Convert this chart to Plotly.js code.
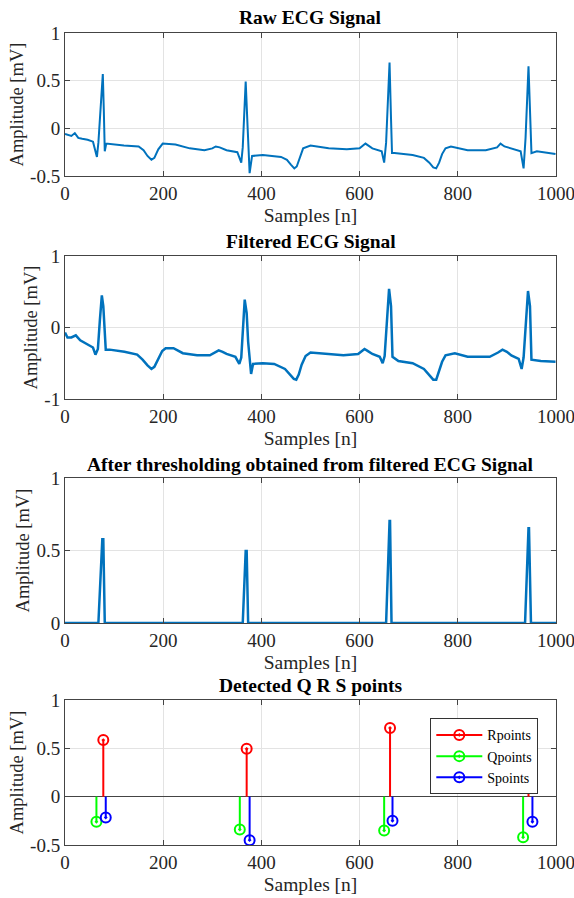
<!DOCTYPE html>
<html><head><meta charset="utf-8">
<script src="https://cdn.plot.ly/plotly-3.0.1.min.js"></script>
<style>html,body{margin:0;padding:0;background:#fff}</style>
</head><body><div id="chart" style="width:574px;height:898px"></div>
<script>
// ---- Raw ECG (samples, mV) ----
const rawN = [0,6,13,20,27,35,46,57,62,65,68,72,77,79,81,84,100,120,150,160,168,176,182,190,199,225,254,284,300,307,315,329,351,359,362,368,372,376,381,403,440,452,460,467,472,478,485,500,537,574,600,612,626,645,650,654,661,664,666,671,708,731,742,750,756,762,768,775,786,820,857,880,887,895,909,928,934,938,944,947,950,961,999];
const rawV = [-0.06,-0.07,-0.08,-0.05,-0.10,-0.11,-0.12,-0.14,-0.26,-0.30,-0.15,0.20,0.57,0.20,-0.24,-0.16,-0.17,-0.18,-0.19,-0.23,-0.29,-0.33,-0.31,-0.22,-0.16,-0.17,-0.21,-0.23,-0.21,-0.19,-0.20,-0.23,-0.25,-0.36,-0.20,0.49,0.00,-0.47,-0.29,-0.28,-0.30,-0.33,-0.38,-0.42,-0.40,-0.30,-0.21,-0.18,-0.21,-0.22,-0.21,-0.16,-0.21,-0.24,-0.36,-0.15,0.69,0.10,-0.26,-0.26,-0.28,-0.31,-0.36,-0.41,-0.42,-0.36,-0.27,-0.21,-0.19,-0.23,-0.23,-0.20,-0.16,-0.19,-0.21,-0.24,-0.42,-0.10,0.65,0.10,-0.26,-0.24,-0.27];

// ---- Filtered ECG ----
const filtN = [0,5,13,22,31,46,57,62,67,71,75,78,81,83,91,121,147,158,168,176,182,190,198,205,221,240,269,295,305,313,321,329,347,355,359,363,366,370,373,379,383,403,426,448,458,466,471,476,482,490,500,522,567,597,604,610,617,626,641,647,651,656,660,664,667,679,708,731,742,750,756,762,768,775,794,820,865,882,891,900,909,924,930,934,939,943,947,950,969,999];
const filtV = [-0.07,-0.14,-0.14,-0.11,-0.18,-0.24,-0.28,-0.38,-0.30,0.10,0.45,0.30,-0.10,-0.31,-0.31,-0.34,-0.38,-0.45,-0.53,-0.58,-0.55,-0.44,-0.33,-0.29,-0.29,-0.36,-0.39,-0.39,-0.35,-0.32,-0.34,-0.37,-0.41,-0.51,-0.42,0.00,0.39,0.20,-0.20,-0.65,-0.51,-0.50,-0.51,-0.58,-0.65,-0.72,-0.73,-0.66,-0.52,-0.40,-0.35,-0.36,-0.39,-0.37,-0.33,-0.30,-0.33,-0.37,-0.41,-0.50,-0.40,0.10,0.54,0.30,-0.41,-0.47,-0.50,-0.58,-0.66,-0.73,-0.73,-0.62,-0.48,-0.39,-0.36,-0.41,-0.41,-0.35,-0.31,-0.34,-0.39,-0.44,-0.58,-0.42,0.10,0.51,0.30,-0.45,-0.47,-0.48];

// ---- Thresholded ----
const thrN = [0,68,76,78,81,362,368,370,373,654,661,662,665,937,944,945,949,1000];
const thrV = [0,0,0.577,0.577,0,0,0.497,0.497,0,0,0.704,0.704,0,0,0.654,0.654,0,0];

// ---- Detected points ----
const rLoc = [78,370,662,944];
const rVal = [0.585,0.495,0.71,0.65];
const qLoc = [64,356,650,933];
const qVal = [-0.26,-0.34,-0.35,-0.42];
const sLoc = [83,376,667,952];
const sVal = [-0.216,-0.45,-0.25,-0.26];

// ---- Labels ----
const titles = ['Raw ECG Signal','Filtered ECG Signal','After thresholding obtained from filtered ECG Signal','Detected Q R S points'];
const xTicks = [0,200,400,600,800,1000];
const yTicks1 = [-0.5,0,0.5,1], yText1 = ['-0.5','0','0.5','1'];
const yTicks2 = [-1,0,1], yText2 = ['-1','0','1'];
const yTicks3 = [0,0.5,1], yText3 = ['0','0.5','1'];
const yTicks4 = [-0.5,0,0.5,1], yText4 = ['-0.5','0','0.5','1'];

const BLUE = '#0072BD';
const FONT = '"Liberation Serif", "Times New Roman", serif';

function stems(loc, val){
  const x=[], y=[];
  loc.forEach((l,i)=>{ x.push(l,l,null); y.push(0,val[i],null); });
  return {x,y};
}

const traces = [
  {x: rawN, y: rawV, type:'scatter', mode:'lines', line:{color:BLUE, width:2}, xaxis:'x', yaxis:'y', showlegend:false},
  {x: filtN, y: filtV, type:'scatter', mode:'lines', line:{color:BLUE, width:2.5}, xaxis:'x2', yaxis:'y2', showlegend:false},
  {x: thrN, y: thrV, type:'scatter', mode:'lines', line:{color:BLUE, width:2.5}, xaxis:'x3', yaxis:'y3', showlegend:false}
];
const series = [
  {name:'Rpoints', loc:rLoc, val:rVal, color:'#ff0000'},
  {name:'Qpoints', loc:qLoc, val:qVal, color:'#00ff00'},
  {name:'Spoints', loc:sLoc, val:sVal, color:'#0000ff'}
];
series.forEach(s=>{
  const st = stems(s.loc, s.val);
  traces.push({x:st.x, y:st.y, type:'scatter', mode:'lines', line:{color:s.color, width:2}, xaxis:'x4', yaxis:'y4', showlegend:false, hoverinfo:'skip'});
  traces.push({x:s.loc, y:s.val, type:'scatter', mode:'markers', marker:{symbol:'circle-open-dot', size:10, color:s.color, line:{width:2, color:s.color}}, xaxis:'x4', yaxis:'y4', showlegend:false});
  traces.push({x:[null], y:[null], type:'scatter', mode:'lines+markers', name:s.name, line:{color:s.color, width:2}, marker:{symbol:'circle-open-dot', size:10, color:s.color, line:{width:2, color:s.color}}, xaxis:'x4', yaxis:'y4'});
});

const domains = [[0.8239,1],[0.5493,0.7254],[0.2734,0.4520],[0,0.1786]];
const yt = [[yTicks1,yText1,[-0.5,1]],[yTicks2,yText2,[-1,1]],[yTicks3,yText3,[0,1]],[yTicks4,yText4,[-0.5,1]]];
const titleY = [1.0197,0.7438,0.4692,0.1970];

const layout = {
  width:574, height:898,
  margin:{l:65, r:18, t:33, b:53},
  paper_bgcolor:'#fff', plot_bgcolor:'#fff',
  font:{family:FONT, size:18, color:'#262626'},
  showlegend:true,
  legend:{x:0.744, y:0.156, xanchor:'left', yanchor:'top', bgcolor:'#fff', bordercolor:'#333', borderwidth:1, font:{family:FONT, size:14, color:'#000'}, tracegroupgap:0, itemwidth:46},
  annotations: titles.map((t,i)=>({text:'<b>'+t+'</b>', xref:'paper', yref:'paper', x:0.5, y:titleY[i], xanchor:'center', yanchor:'middle', showarrow:false, font:{family:FONT, size:19.5, color:'#000'}}))
};
for(let i=0;i<4;i++){
  const sx = i===0?'':String(i+1);
  layout['xaxis'+sx] = {
    domain:[0,1], anchor:'y'+sx, range:[0,1000], tickvals:xTicks, ticktext:xTicks.map(String),
    ticklabeloverflow:'allow',
    showgrid:true, gridcolor:'#e3e3e3', gridwidth:1, zeroline:false,
    showline:true, linecolor:'#444', linewidth:1, mirror:'ticks', ticks:'inside', ticklen:5, tickcolor:'#444',
    tickfont:{family:FONT, size:19, color:'#262626'},
    title:{text:'Samples [n]', font:{family:FONT, size:19.5, color:'#262626'}, standoff:5}
  };
  layout['yaxis'+sx] = {
    domain:domains[i], anchor:'x'+sx, range:yt[i][2], tickvals:yt[i][0], ticktext:yt[i][1],
    showgrid:true, gridcolor:'#e3e3e3', gridwidth:1,
    zeroline: i===3, zerolinecolor:'#444', zerolinewidth:1.5,
    showline:true, linecolor:'#444', linewidth:1, mirror:'ticks', ticks:'inside', ticklen:5, tickcolor:'#444',
    tickfont:{family:FONT, size:19, color:'#262626'},
    title:{text:'Amplitude [mV]', font:{family:FONT, size:18.5, color:'#262626'}, standoff:1}
  };
}
Plotly.newPlot('chart', traces, layout, {displayModeBar:false, staticPlot:true});
</script></body></html>
